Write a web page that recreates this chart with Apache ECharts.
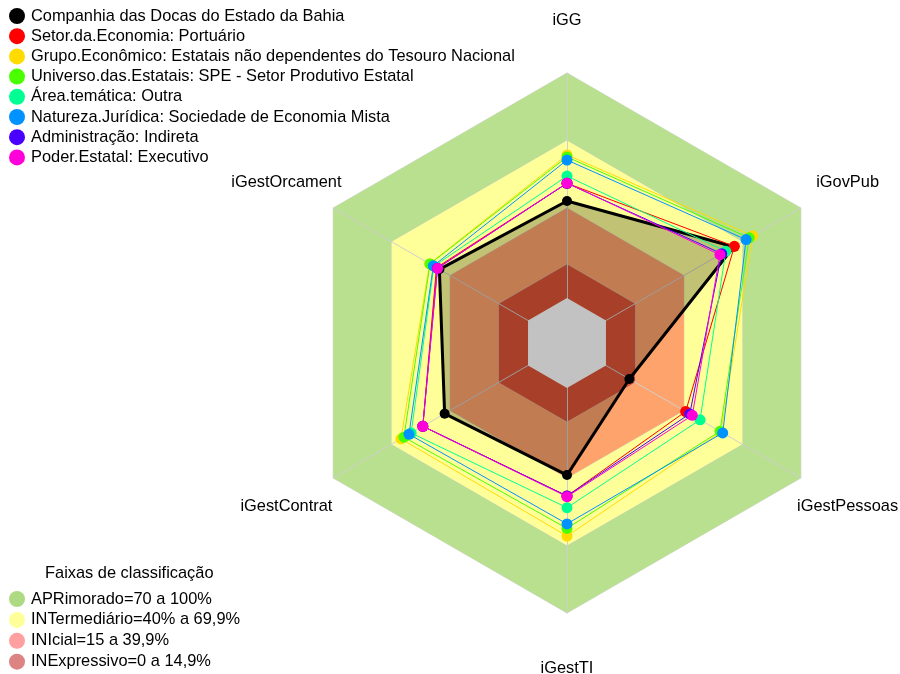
<!DOCTYPE html>
<html><head><meta charset="utf-8">
<script src="https://cdn.jsdelivr.net/npm/echarts@6/dist/echarts.min.js"></script>
<style>html,body{margin:0;padding:0;background:#fff}#c{width:900px;height:674px}</style>
</head><body><div id="c"></div>
<script>
// Indicators (counter-clockwise from the top, as ECharts lays them out)
const indicators = ['iGG', 'iGestOrcament', 'iGestContrat', 'iGestTI', 'iGestPessoas', 'iGovPub'];

const seriesNames = [
  'Companhia das Docas do Estado da Bahia',
  'Setor.da.Economia: Portuário',
  'Grupo.Econômico: Estatais não dependentes do Tesouro Nacional',
  'Universo.das.Estatais: SPE - Setor Produtivo Estatal',
  'Área.temática: Outra',
  'Natureza.Jurídica: Sociedade de Economia Mista',
  'Administração: Indireta',
  'Poder.Estatal: Executivo'
];
const seriesColors = ['#000000', '#FF0000', '#FFDB00', '#49FF00', '#00FF92', '#0092FF', '#4900FF', '#FF00DB'];

// values in %, order = indicators
const companhia      = [43.1, 45.5, 42.8, 38.7, 12.0, 65.6];
const setorEconomia  = [51.0, 47.0, 54.0, 48.0, 40.9, 65.9];
const grupoEconomico = [63.6, 50.5, 65.2, 65.8, 59.0, 75.3];
const universo       = [62.7, 50.3, 63.7, 62.4, 58.5, 73.5];
const areaTematica   = [54.2, 48.3, 60.0, 53.2, 48.3, 61.5];
const natureza       = [61.3, 48.6, 61.1, 60.4, 59.9, 71.9];
const administracao  = [51.0, 46.5, 54.0, 48.0, 43.0, 59.4];
const poderEstatal   = [51.1, 46.4, 54.0, 48.3, 44.3, 58.5];
const seriesValues = [companhia, setorEconomia, grupoEconomico, universo, areaTematica, natureza, administracao, poderEstatal];

// classification bands
const bandTitle = 'Faixas de classificação';
const bandNames = ['APRimorado=70 a 100%', 'INTermediário=40% a 69,9%', 'INIcial=15 a 39,9%', 'INExpressivo=0 a 14,9%'];
const bandUpper = [100, 70, 40, 15];
const bandFill = ['#B8E08E', '#FFFF99', '#FFA36C', '#DD5435'];
const bandLegendColors = ['#AEDA84', '#FFFF99', '#FF9F9F', '#DC8484'];
const axisMin = -20, axisMax = 100;

const FONT = '"Liberation Sans", Arial, sans-serif';
const FS = 16.4;
const CX = 567, CY = 343, R = 270, LABEL_R = 324, LABEL_CY = 344;

const chart = echarts.init(document.getElementById('c'));

const series = [];
bandUpper.forEach((lvl, i) => {
  series.push({
    type: 'radar', name: bandNames[i], z: 1, silent: true, symbol: 'none',
    lineStyle: { color: 'rgba(205,205,205,0.8)', width: 1 },
    itemStyle: { color: bandFill[i] },
    areaStyle: { color: bandFill[i], opacity: 1 },
    emphasis: { disabled: true },
    data: [{ name: bandNames[i], value: indicators.map(() => lvl) }]
  });
});
series.push({
  type: 'radar', name: 'centro', z: 3, silent: true, symbol: 'none',
  lineStyle: { width: 0 }, itemStyle: { color: '#FFFFFF' },
  areaStyle: { color: '#FFFFFF', opacity: 1 },
  emphasis: { disabled: true },
  data: [{ name: 'centro', value: indicators.map(() => 0) }]
});
seriesValues.forEach((vals, i) => {
  const s = {
    type: 'radar', name: seriesNames[i], z: 4 + i, symbol: 'circle',
    symbolSize: i === 0 ? 10 : 11,
    lineStyle: { color: seriesColors[i], width: i === 0 ? 3 : 1 },
    itemStyle: { color: seriesColors[i] },
    emphasis: { disabled: true },
    data: [{ name: seriesNames[i], value: vals }]
  };
  if (i === 0) s.areaStyle = { color: 'rgba(0,0,0,0.24)', opacity: 1 };
  series.push(s);
});

const labels = indicators.map((name, i) => {
  const ang = Math.PI / 2 + i * 2 * Math.PI / indicators.length;
  return {
    type: 'text', silent: true,
    style: {
      text: name, x: CX + LABEL_R * Math.cos(ang), y: LABEL_CY - LABEL_R * Math.sin(ang),
      align: 'center', verticalAlign: 'middle', fill: '#000',
      font: FS + 'px ' + FONT
    }
  };
});

chart.setOption({
  animation: false,
  backgroundColor: '#fff',
  textStyle: { fontFamily: FONT },
  title: {
    text: bandTitle, left: 45, top: 565, padding: 0,
    textStyle: { fontSize: FS, fontWeight: 'normal', color: '#000', fontFamily: FONT }
  },
  legend: [
    {
      orient: 'vertical', left: 9, top: 8, padding: 0, itemGap: 4.2,
      icon: 'circle', itemWidth: 18, itemHeight: 16, selectedMode: false,
      textStyle: { fontSize: FS, color: '#000', fontFamily: FONT },
      itemStyle: { borderWidth: 0 },
      data: seriesNames
    },
    {
      orient: 'vertical', left: 9, top: 591, padding: 0, itemGap: 4.9,
      icon: 'circle', itemWidth: 18, itemHeight: 16, selectedMode: false,
      textStyle: { fontSize: FS, color: '#000', fontFamily: FONT },
      itemStyle: { borderWidth: 0 },
      data: bandNames.map((n, i) => ({ name: n, itemStyle: { color: bandLegendColors[i], borderWidth: 0 } }))
    }
  ],
  radar: {
    center: [CX, CY], radius: R, startAngle: 90, splitNumber: 6, z: 2,
    indicator: indicators.map(n => ({ name: n, min: axisMin, max: axisMax })),
    axisName: { show: false },
    axisLine: { show: true, lineStyle: { color: '#CFCFCF', width: 1 } },
    splitLine: { show: false },
    splitArea: { show: false }
  },
  graphic: labels,
  series: series
});
</script></body></html>
